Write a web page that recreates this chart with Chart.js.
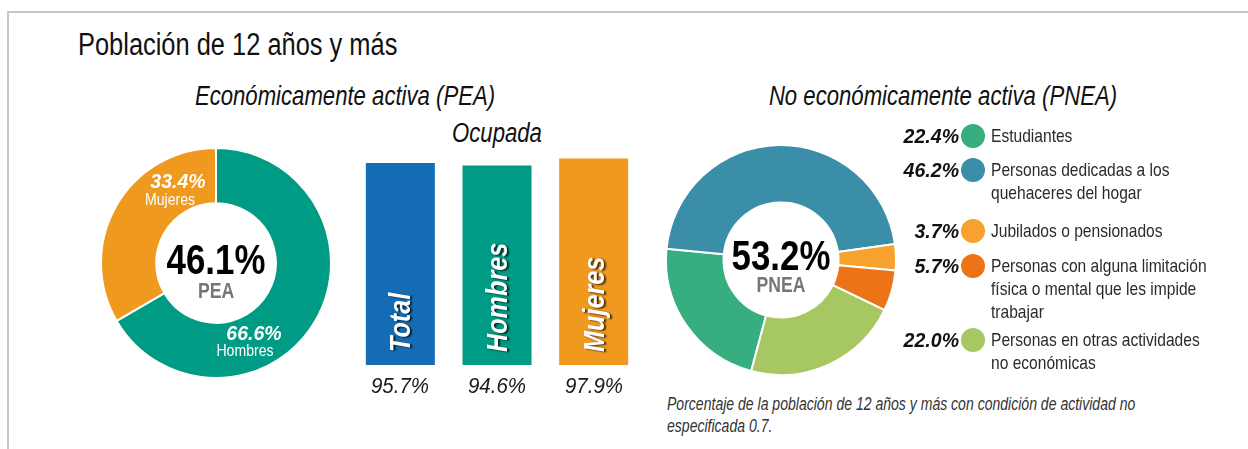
<!DOCTYPE html>
<html lang="es"><head><meta charset="utf-8">
<script src="https://cdn.jsdelivr.net/npm/chart.js@4.4.1/dist/chart.umd.min.js"></script>
<style>
html,body{margin:0;padding:0;background:#fff}
body{width:1248px;height:449px;position:relative;overflow:hidden;font-family:'Liberation Sans',Arial,sans-serif;color:#111}
.frame{position:absolute;left:7px;top:11px;width:1300px;height:500px;border-top:2px solid #c4c8cc;border-left:2px solid #c4c8cc}
.t{position:absolute;white-space:nowrap}
canvas{position:absolute}
#title{left:78px;top:29px;font-size:31px;line-height:31px;transform-origin:0 0;transform:scaleX(.82)}
.sub{font-style:italic;font-size:27px;line-height:27px;width:500px;text-align:center;transform:scaleX(.82)}
.big{font-weight:bold;font-size:42px;line-height:42px;width:160px;text-align:center;color:#000;transform:scaleX(.83)}
.cap{font-weight:bold;font-size:22px;line-height:22px;width:160px;text-align:center;color:#767676;transform:scaleX(.8)}
.segv{font-weight:bold;font-style:italic;font-size:21px;line-height:21px;width:120px;text-align:center;color:#fff;transform:scaleX(.93)}
.segl{font-size:16px;line-height:16px;width:120px;text-align:center;color:#fff;transform:scaleX(.88)}
.barlbl{font-weight:bold;font-style:italic;font-size:30px;line-height:30px;color:#fff;transform-origin:0 0;transform:rotate(-90deg) scaleX(.84);text-shadow:-1px 2px 2px rgba(0,0,0,.75)}
.barval{font-style:italic;font-size:22px;line-height:22px;width:120px;text-align:center;color:#1a1a1a;transform:scaleX(.93)}
.lv{font-weight:bold;font-style:italic;font-size:21px;line-height:21px;width:90px;text-align:right;color:#111;transform-origin:100% 50%;transform:scaleX(.93)}
.ldot{position:absolute;width:24px;height:24px;border-radius:50%}
.ll{font-size:19px;line-height:23px;color:#2b2b2b;white-space:pre;transform-origin:0 0;transform:scaleX(.82)}
#foot{left:667px;top:394px;font-style:italic;font-size:18px;line-height:21.5px;color:#333;transform-origin:0 0;transform:scaleX(.78)}
</style></head>
<body>
<div class="frame"></div>
<div class="t" id="title">Población de 12 años y más</div>
<div class="t sub" style="left:95px;top:83px">Económicamente activa (PEA)</div>
<div class="t sub" style="left:247px;top:120px">Ocupada</div>
<div class="t sub" style="left:693px;top:83px">No económicamente activa (PNEA)</div>
<canvas id="pea" width="232" height="232" style="left:100px;top:147px"></canvas>
<canvas id="occ" width="290" height="246" style="left:352px;top:154px"></canvas>
<canvas id="pnea" width="232" height="232" style="left:665px;top:144px"></canvas>
<div id="overlay"></div>
<div class="t" id="foot">Porcentaje de la población de 12 años y más con condición de actividad no<br>especificada 0.7.</div>
<script>
// ---- data ----
const peaLabels = ['Hombres', 'Mujeres'];
const peaValues = [66.6, 33.4];
const peaTotal = 46.1;
const occLabels = ['Total', 'Hombres', 'Mujeres'];
const occValues = [95.7, 94.6, 97.9];
const pneaLabels = ['Estudiantes', 'Personas dedicadas a los\nquehaceres del hogar', 'Jubilados o pensionados', 'Personas con alguna limitación\nfísica o mental que les impide\ntrabajar', 'Personas en otras actividades\nno económicas'];
const pneaValues = [22.4, 46.2, 3.7, 5.7, 22.0];
const pneaTotal = 53.2;

// ---- styles ----
const peaColors = ['#009b84', '#f0991f'];
const occColors = ['#146db4', '#009b84', '#f0991f'];
const pneaColors = ['#37ae7f', '#3a8ea8', '#f6a22c', '#ec7417', '#a6c761'];
const fmt = v => v.toFixed(1) + '%';
Chart.defaults.font.family = "'Liberation Sans', Arial, sans-serif";

const overlay = document.getElementById('overlay');
function addText(cls, txt, left, top) {
  const d = document.createElement('div');
  d.className = 't ' + cls;
  d.textContent = txt;
  d.style.left = left + 'px';
  d.style.top = top + 'px';
  overlay.appendChild(d);
  return d;
}
const common = {responsive:false, animation:false, plugins:{legend:{display:false}, tooltip:{enabled:false}}, layout:{padding:0}};

// ---- PEA doughnut ----
const peaCv = document.getElementById('pea');
const peaChart = new Chart(peaCv, {
  type:'doughnut',
  data:{labels:peaLabels, datasets:[{data:peaValues, backgroundColor:peaColors, borderColor:'#fff', borderWidth:2}]},
  options:Object.assign({}, common, {cutout:'52%', rotation:0})
});
{
  const a = peaChart.getDatasetMeta(0).data[0];
  const cx = peaCv.offsetLeft + a.x, cy = peaCv.offsetTop + a.y;
  addText('big', fmt(peaTotal), cx - 80, cy - 4 - 20.5);
  addText('cap', 'PEA', cx - 80, cy + 28 - 10.7);
  const segPos = [[38, 69, 29, 88], [-38, -83, -46, -63]];
  peaValues.forEach((v, i) => {
    const p = segPos[i];
    addText('segv', fmt(v), cx + p[0] - 60, cy + p[1] - 10.3);
    addText('segl', peaLabels[i], cx + p[2] - 60, cy + p[3] - 7.8);
  });
}

// ---- Ocupada bars ----
const occCv = document.getElementById('occ');
const occChart = new Chart(occCv, {
  type:'bar',
  data:{labels:occLabels, datasets:[{data:occValues, backgroundColor:occColors, borderWidth:0, barPercentage:0.714, categoryPercentage:1}]},
  options:Object.assign({}, common, {
    scales:{
      y:{display:false, min:0, max:100},
      x:{grid:{display:false, drawTicks:false}, border:{display:false},
         ticks:{display:false}, afterFit(s){ s.height = 35; }}
    }
  })
});
{
  const xs = occChart.scales.x;
  occChart.getDatasetMeta(0).data.forEach((b, i) => {
    addText('barlbl', occLabels[i], occCv.offsetLeft + b.x - 15, occCv.offsetTop + b.base - 13);
    addText('barval', fmt(occValues[i]), occCv.offsetLeft + xs.getPixelForValue(i) - 60, occCv.offsetTop + b.base + 10);
  });
}

// ---- PNEA doughnut ----
const pneaCv = document.getElementById('pnea');
const pneaChart = new Chart(pneaCv, {
  type:'doughnut',
  data:{labels:pneaLabels, datasets:[{data:pneaValues, backgroundColor:pneaColors, borderColor:'#fff', borderWidth:2}]},
  options:Object.assign({}, common, {cutout:'50%', rotation:195})
});
{
  const a = pneaChart.getDatasetMeta(0).data[0];
  const cx = pneaCv.offsetLeft + a.x, cy = pneaCv.offsetTop + a.y;
  addText('big', fmt(pneaTotal), cx - 80, cy - 5 - 20.5);
  addText('cap', 'PNEA', cx - 80, cy + 25 - 10.7);
}
// legend
const rowTops = [124, 158, 219, 254, 328];
pneaLabels.forEach((lab, i) => {
  const top = rowTops[i];
  addText('lv', fmt(pneaValues[i]), 959 - 90, top + 11.5 - 10.3);
  const dot = document.createElement('div');
  dot.className = 'ldot';
  dot.style.left = (973 - 12) + 'px';
  dot.style.top = (top - 0.5) + 'px';
  dot.style.background = pneaColors[i];
  overlay.appendChild(dot);
  addText('ll', lab, 991, top);
});
</script>
</body></html>
